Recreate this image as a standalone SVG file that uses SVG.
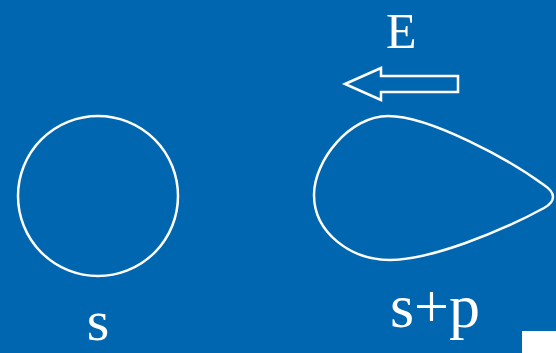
<svg xmlns="http://www.w3.org/2000/svg" width="556" height="353" viewBox="0 0 556 353">
<style>
.shape{fill:none;stroke:#ffffff;stroke-width:2.5}
.lbl{font-family:"Liberation Serif","Times New Roman",serif;fill:#ffffff}
</style>
<rect x="0" y="0" width="556" height="353" fill="#0066AF"/>
<g id="s-orbital">
<circle class="shape" cx="98" cy="196" r="80"/>
<text class="lbl" x="98" y="340" font-size="58" text-anchor="middle">s</text>
</g>
<g id="sp-orbital">
<path class="shape" d="M314,195 C314,160 350,116 388,116 C430,116 510,160 544,185 C556,193 556,201 544,208 C500,232 430,260 390,260 C350,260 314,232 314,195 Z"/>
<text class="lbl" x="435" y="327" font-size="62" text-anchor="middle">s+p</text>
</g>
<g id="field">
<text class="lbl" x="386" y="48" font-size="50">E</text>
</g>
<g id="connectors">
<polygon class="shape" stroke-width="2" points="345,84 381,68 381,76 458,76 458,92 381,92 381,100"/>
</g>
<rect x="522" y="331" width="34" height="22" fill="#ffffff"/>
</svg>
